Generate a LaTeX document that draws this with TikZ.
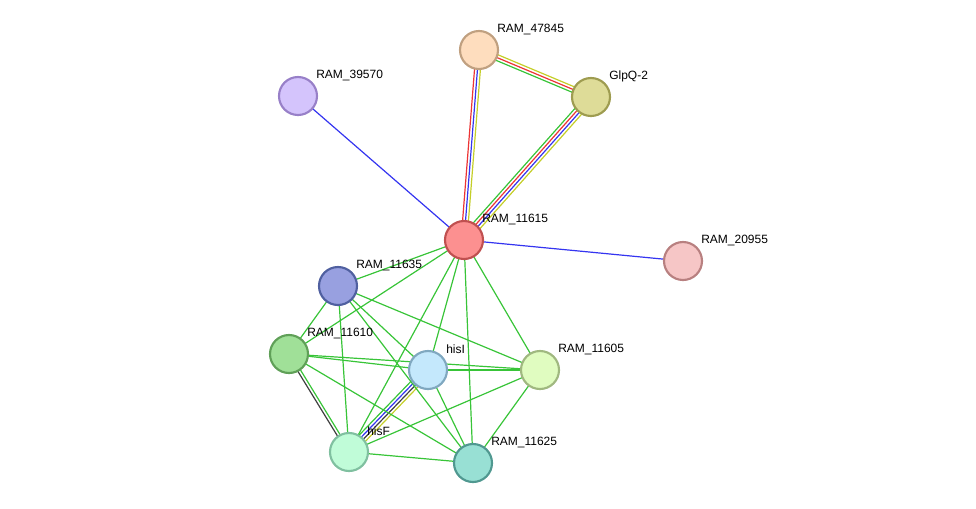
\documentclass[tikz,border=0pt]{standalone}
\usepackage{fontspec}
\setmainfont{Liberation Sans}
\usetikzlibrary{positioning, calc, backgrounds}

\definecolor{egreen}{RGB}{56,196,56}
\definecolor{eblue}{RGB}{52,52,240}
\definecolor{ered}{RGB}{236,52,52}
\definecolor{eyellow}{RGB}{196,206,40}
\definecolor{eblack}{RGB}{64,64,64}

% parallel evidence lines between two proteins
\newcommand{\bundle}[4]{%
  \foreach \col [count=\k] in {#4}{%
    \pgfmathsetmacro{\off}{(\k-(#3+1)/2)*2.2}%
    \draw[edge, draw=\col] ($(#1.center)!\off pt!90:(#2.center)$) -- ($(#2.center)!\off pt!-90:(#1.center)$);
  }}

\begin{document}
\begin{tikzpicture}[
        x=0.75pt, y=-0.75pt,
        prot/.style={circle, minimum size=28.5pt, inner sep=0pt, line width=1.6pt},
        lbl/.style={anchor=west, inner sep=0pt, font=\fontsize{9}{11}\selectfont},
        edge/.style={line width=0.9pt, draw=egreen}
    ]
    \useasboundingbox (0,0) rectangle (976,508);

    % Proteins
    \node[prot, fill={rgb,255:red,254;green,221;blue,190}, draw={rgb,255:red,192;green,160;blue,128}] (n47845) at (479,50) {};
    \node[prot, fill={rgb,255:red,222;green,220;blue,152}, draw={rgb,255:red,158;green,156;blue,80}] (nglpq) at (591,97) {};
    \node[prot, fill={rgb,255:red,212;green,196;blue,252}, draw={rgb,255:red,152;green,128;blue,200}] (n39570) at (298,96) {};
    \node[prot, fill={rgb,255:red,252;green,144;blue,144}, draw={rgb,255:red,192;green,80;blue,80}] (n11615) at (464,240) {};
    \node[prot, fill={rgb,255:red,246;green,198;blue,198}, draw={rgb,255:red,184;green,128;blue,128}] (n20955) at (683,261) {};
    \node[prot, fill={rgb,255:red,152;green,160;blue,224}, draw={rgb,255:red,80;green,96;blue,160}] (n11635) at (338,286) {};
    \node[prot, fill={rgb,255:red,160;green,224;blue,152}, draw={rgb,255:red,96;green,160;blue,88}] (n11610) at (289,354) {};
    \node[prot, fill={rgb,255:red,196;green,232;blue,252}, draw={rgb,255:red,128;green,168;blue,192}] (nhisi) at (428,370) {};
    \node[prot, fill={rgb,255:red,224;green,252;blue,192}, draw={rgb,255:red,160;green,184;blue,128}] (n11605) at (540,370) {};
    \node[prot, fill={rgb,255:red,192;green,252;blue,216}, draw={rgb,255:red,128;green,192;blue,160}] (nhisf) at (349,452) {};
    \node[prot, fill={rgb,255:red,152;green,224;blue,212}, draw={rgb,255:red,80;green,152;blue,144}] (n11625) at (473,463) {};

    % Labels
    \node[lbl] (t47845) at ([shift={(18,-21)}]n47845.center) {RAM\_47845};
    \node[lbl] (tglpq) at ([shift={(18,-21)}]nglpq.center) {GlpQ-2};
    \node[lbl] (t39570) at ([shift={(18,-21)}]n39570.center) {RAM\_39570};
    \node[lbl] (t11615) at ([shift={(18,-21)}]n11615.center) {RAM\_11615};
    \node[lbl] (t20955) at ([shift={(18,-21)}]n20955.center) {RAM\_20955};
    \node[lbl] (t11635) at ([shift={(18,-21)}]n11635.center) {RAM\_11635};
    \node[lbl] (t11610) at ([shift={(18,-21)}]n11610.center) {RAM\_11610};
    \node[lbl] (thisi) at ([shift={(18,-21)}]nhisi.center) {hisI};
    \node[lbl] (t11605) at ([shift={(18,-21)}]n11605.center) {RAM\_11605};
    \node[lbl] (thisf) at ([shift={(18,-21)}]nhisf.center) {hisF};
    \node[lbl] (t11625) at ([shift={(18,-21)}]n11625.center) {RAM\_11625};

    \begin{pgfonlayer}{background}
    % Multi-evidence edges
    \bundle{n47845}{n11615}{3}{ered, eblue, eyellow}
    \bundle{n47845}{nglpq}{3}{egreen, ered, eyellow}
    \bundle{nglpq}{n11615}{4}{egreen, ered, eblue, eyellow}
    \bundle{nhisi}{nhisf}{4}{egreen, eblue, eblack, eyellow}
    \bundle{n11610}{nhisf}{2}{eblack, egreen}

    % Single edges
    \draw[edge, draw=eblue] (n39570.center) -- (n11615.center);
    \draw[edge, draw=eblue] (n11615.center) -- (n20955.center);
    \foreach \a/\b in {n11615/n11635, n11615/n11610, n11615/nhisi, n11615/nhisf, n11615/n11625, n11615/n11605,
                       n11635/n11610, n11635/nhisf, n11635/nhisi, n11635/n11625, n11635/n11605,
                       n11610/nhisi, n11610/n11605, n11610/n11625,
                       nhisi/n11605, nhisi/n11625, nhisf/n11605, nhisf/n11625, n11605/n11625}
        \draw[edge] (\a.center) -- (\b.center);
    \end{pgfonlayer}

\end{tikzpicture}
\end{document}
